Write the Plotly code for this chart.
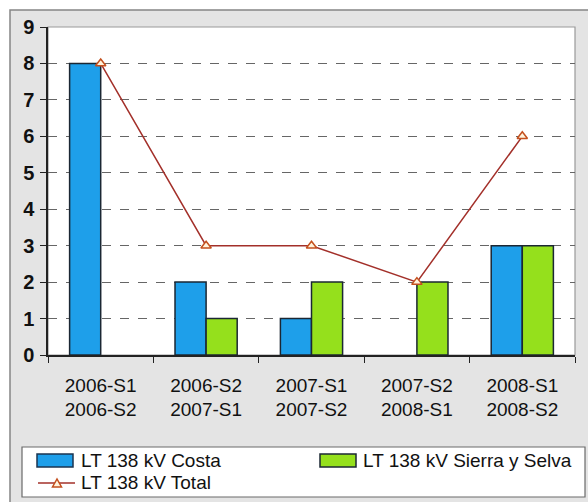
import plotly.graph_objects as go

# Periods (two semesters per group)
categories = [
    "2006-S1<br>2006-S2",
    "2006-S2<br>2007-S1",
    "2007-S1<br>2007-S2",
    "2007-S2<br>2008-S1",
    "2008-S1<br>2008-S2",
]
costa = [8, 2, 1, 0, 3]
sierra_selva = [0, 1, 2, 2, 3]
total = [8, 3, 3, 2, 6]

series_names = ["LT 138 kV Costa", "LT 138 kV Sierra y Selva", "LT 138 kV Total"]
y_ticks = list(range(0, 10))

BLUE = "#1e9fea"
GREEN = "#95e01c"
LINE_RED = "#a3302a"
OUTLINE = "#1b2733"
FONT = "Liberation Sans, Arial, sans-serif"

W, H = 588, 502
ML, MR, MT, MB = 48, 13, 27, 147
PW, PH = W - ML - MR, H - MT - MB


def fx(px):
    return (px - ML) / PW


def fy(py):
    return (H - MB - py) / PH


def outline_widths(values, width=1.5):
    # no outline on empty bars, so they leave no stroke on the axis
    return [width if v else 0 for v in values]


fig = go.Figure()
fig.add_trace(go.Bar(
    x=categories, y=costa, name=series_names[0],
    marker=dict(color=BLUE, line=dict(color=OUTLINE, width=outline_widths(costa))),
))
fig.add_trace(go.Bar(
    x=categories, y=sierra_selva, name=series_names[1],
    marker=dict(color=GREEN, line=dict(color=OUTLINE, width=outline_widths(sierra_selva))),
))
fig.add_trace(go.Scatter(
    x=categories, y=total, name=series_names[2], mode="lines+markers",
    line=dict(color=LINE_RED, width=1.5),
    marker=dict(symbol="triangle-up", size=9, color="#fff3dc",
                line=dict(color="#c4501e", width=1.5)),
))

shapes = [
    # outer grey panel
    dict(type="rect", xref="paper", yref="paper", layer="below",
         x0=fx(10), x1=fx(592), y0=fy(506), y1=fy(10),
         fillcolor="#e4e4e4", line=dict(color="#858585", width=1.5)),
    # plot area
    dict(type="rect", xref="paper", yref="paper", layer="below",
         x0=0, x1=1, y0=0, y1=1,
         fillcolor="white", line=dict(color="#9a9a9a", width=1.2)),
    # legend frame
    dict(type="rect", xref="paper", yref="paper", layer="below",
         x0=fx(22), x1=fx(585), y0=fy(497), y1=fy(447),
         fillcolor="white", line=dict(color="#6a6a6a", width=1.2)),
    # legend keys
    dict(type="rect", xref="paper", yref="paper",
         x0=fx(37), x1=fx(73), y0=fy(467), y1=fy(454),
         fillcolor=BLUE, line=dict(color="#1b3550", width=1.5)),
    dict(type="rect", xref="paper", yref="paper",
         x0=fx(320), x1=fx(356), y0=fy(467), y1=fy(454),
         fillcolor=GREEN, line=dict(color=OUTLINE, width=1.5)),
    dict(type="line", xref="paper", yref="paper",
         x0=fx(38), x1=fx(75), y0=fy(483), y1=fy(483),
         line=dict(color=LINE_RED, width=1.5)),
    dict(type="path", xref="paper", yref="paper",
         path="M {:.5f},{:.5f} L {:.5f},{:.5f} L {:.5f},{:.5f} Z".format(
             fx(52.5), fy(487), fx(61.5), fy(487), fx(57), fy(479)),
         fillcolor="#fff3dc", line=dict(color="#c4501e", width=1.5)),
]

annotations = [
    dict(text=series_names[0], x=fx(79), y=fy(460)),
    dict(text=series_names[1], x=fx(361), y=fy(460)),
    dict(text=series_names[2], x=fx(79), y=fy(483)),
]
for a in annotations:
    a.update(xref="paper", yref="paper", xanchor="left", yanchor="middle",
             showarrow=False, font=dict(family=FONT, size=19, color="#111111"))

fig.update_layout(
    width=W, height=H,
    margin=dict(l=ML, r=MR, t=MT, b=MB),
    paper_bgcolor="white",
    plot_bgcolor="rgba(0,0,0,0)",
    barmode="group", bargap=0.41, bargroupgap=0,
    showlegend=False,
    shapes=shapes, annotations=annotations,
    font=dict(family=FONT, color="#111111"),
)
fig.update_xaxes(
    type="category", tickson="boundaries",
    ticks="outside", ticklen=6, tickcolor="#222222",
    showline=True, linecolor="#222222", linewidth=1.5,
    showgrid=False, ticklabelstandoff=12,
    tickfont=dict(family=FONT, size=19, color="#111111"),
)
fig.update_yaxes(
    range=[0, 9], tickvals=y_ticks,
    ticks="outside", ticklen=6, tickcolor="#222222",
    showline=True, linecolor="#222222", linewidth=1.5,
    showgrid=True, gridcolor="#666666", griddash="dash", gridwidth=1,
    zeroline=False, ticklabelstandoff=2,
    tickfont=dict(family=FONT, size=20, color="#111111", weight="bold"),
)

fig.write_html("out.html")
